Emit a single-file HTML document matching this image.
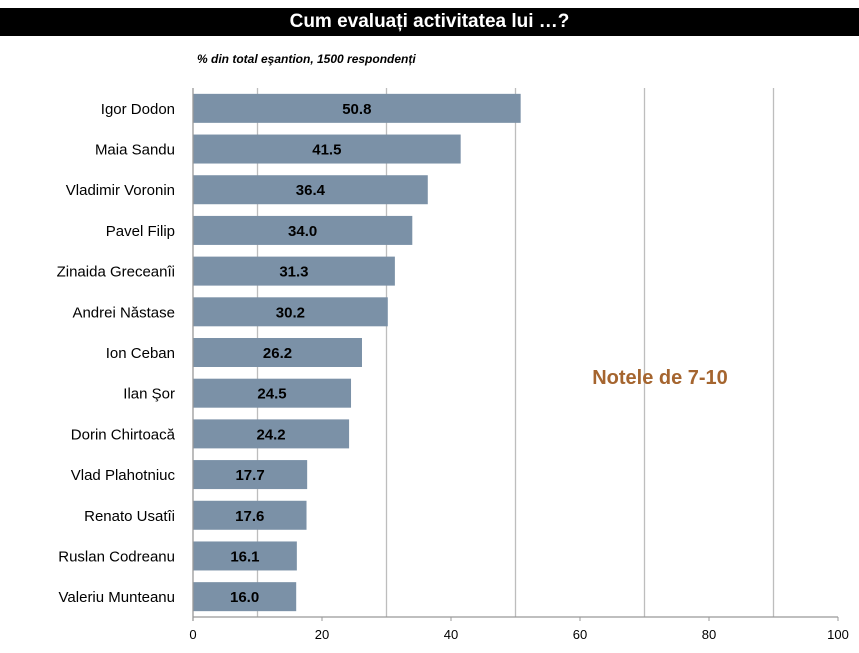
<!DOCTYPE html>
<html><head><meta charset="utf-8"><style>
body{margin:0;background:#fff;font-family:"Liberation Sans",sans-serif;}
#wrap{position:relative;width:859px;height:653px;overflow:hidden;}
#title{position:absolute;left:0;top:8px;width:859px;height:28px;background:#000;color:#fff;font-weight:bold;font-size:19px;text-align:center;line-height:28px;}
#sub{position:absolute;left:197px;top:52px;font-size:12px;font-weight:bold;font-style:italic;color:#000;}
</style></head><body>
<div id="wrap">
<div id="title">Cum evaluați activitatea lui …?</div>
<div id="sub">% din total eşantion, 1500 respondenți</div>
<svg id="svg" width="859" height="653" style="position:absolute;left:0;top:0"></svg>
</div>
<script>
const categories=["Igor Dodon","Maia Sandu","Vladimir Voronin","Pavel Filip","Zinaida Greceanîi","Andrei Năstase","Ion Ceban","Ilan Şor","Dorin Chirtoacă","Vlad Plahotniuc","Renato Usatîi","Ruslan Codreanu","Valeriu Munteanu"];
const values=[50.8,41.5,36.4,34.0,31.3,30.2,26.2,24.5,24.2,17.7,17.6,16.1,16.0];
const ticks=[0,20,40,60,80,100];
const gridVals=[10,30,50,70,90];
const svg=document.getElementById('svg');const NS='http://www.w3.org/2000/svg';
const x0=193,x1=838,yTop=88,yBottom=617;
const xs=v=>x0+(x1-x0)*v/100;
const band=(yBottom-yTop)/categories.length;
function mk(t,a,txt){const e=document.createElementNS(NS,t);for(const k in a)e.setAttribute(k,a[k]);if(txt!=null)e.textContent=txt;svg.appendChild(e);return e;}
gridVals.forEach(g=>{const l=mk('line',{x1:xs(g),x2:xs(g),y1:yTop,y2:yBottom,stroke:'#bdbdbd','stroke-width':1.3});

});
categories.forEach((c,i)=>{const cy=yTop+band*(i+0.5);
const r=mk('rect',{x:x0,y:cy-14.5,width:xs(values[i])-x0,height:29,fill:'#7b91a7'});


const t=mk('text',{x:(x0+xs(values[i]))/2,y:cy+5.5,'text-anchor':'middle','font-size':15,'font-weight':'bold',fill:'#000'},values[i].toFixed(1));


const lb=mk('text',{x:175,y:cy+5.5,'text-anchor':'end','font-size':15,fill:'#000'},c);

});
const ax=mk('line',{x1:x0,x2:x1,y1:yBottom,y2:yBottom,stroke:'#999','stroke-width':1.3});


const ay=mk('line',{x1:x0,x2:x0,y1:yTop,y2:yBottom+4,stroke:'#999','stroke-width':1.3});


ticks.forEach(v=>{const tk=mk('line',{x1:xs(v),x2:xs(v),y1:yBottom,y2:yBottom+4,stroke:'#999'});


const tl=mk('text',{x:xs(v),y:yBottom+22,'text-anchor':'middle','font-size':13,fill:'#000'},v);

});
const n=mk('text',{x:660,y:384,'text-anchor':'middle','font-size':20,'font-weight':'bold',fill:'#a5652f'},'Notele de 7-10');


</script>
</body></html>
